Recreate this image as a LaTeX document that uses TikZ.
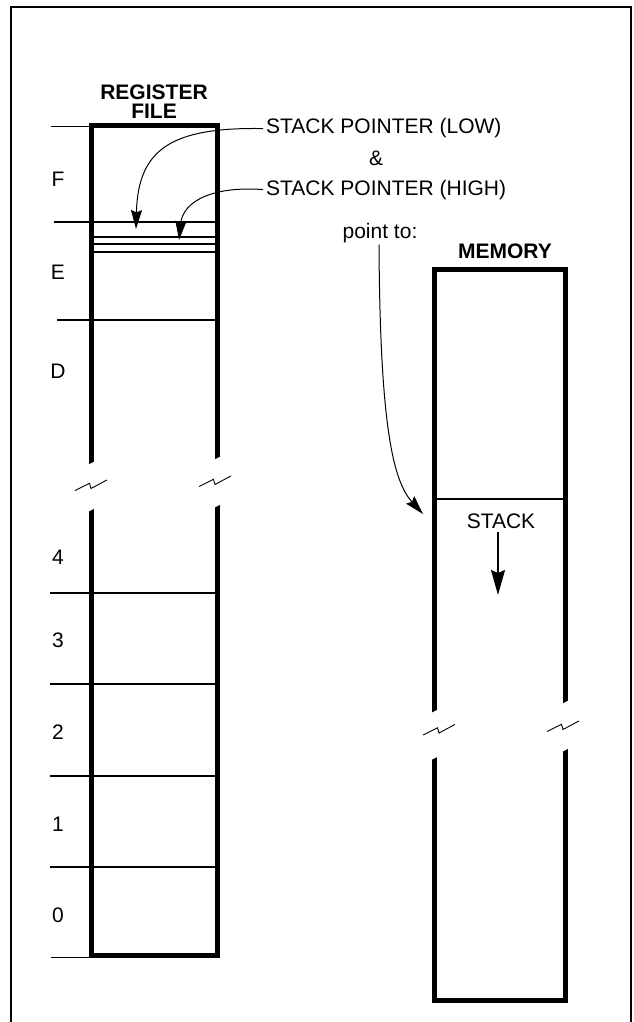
\documentclass[tikz,border=0pt]{standalone}
\usepackage{fontspec}
\setmainfont{Liberation Sans}
\usetikzlibrary{arrows.meta}
\newcommand\gapcut[3]{% x, y of top cut, y of bottom cut
  \fill[white] ({#1-3.6},{#2+1.8}) -- ({#1+3.6},{#2-1.8}) -- ({#1+3.6},{#3-1.8}) -- ({#1-3.6},{#3+1.8}) -- cycle;}
\newcommand\zigmark[2]{%
  \draw[zz] ({#1-16},{#2+6}) -- ({#1-1.5},{#2-1.2}) -- ({#1},{#2+4}) -- ({#1+16},{#2-4.6});}
\begin{document}
\begin{tikzpicture}[x=1pt,y=-1pt,
  lbl/.style={font=\fontsize{21}{24}\selectfont, inner sep=0pt},
  blbl/.style={font=\fontsize{21}{19}\selectfont\bfseries, inner sep=0pt, align=center},
  thickedge/.style={line width=5pt},
  thinline/.style={line width=1.5pt},
  ptr/.style={line width=1pt, -{Stealth[length=19pt,width=11pt,inset=2.5pt]}},
  bigptr/.style={line width=1.4pt, -{Stealth[length=25pt,width=14pt,inset=3pt]}},
  zz/.style={line width=0.9pt}]
\useasboundingbox (0,0) rectangle (633,1022);
% outer frame (open at the bottom)
\draw[line width=2pt] (11,1022) -- (11,7) -- (631,7) -- (631,1022);

% ---------- register file ----------
\node[blbl, anchor=north] (regtitle) at (154,84.5) {REGISTER\\FILE};
\draw[thickedge] (91.5,125.5) rectangle (217.5,955.5);
\draw[thinline] (51,126.5) -- (92,126.5);
\draw[thinline] (54,222) -- (217,222);
\draw[line width=1.9pt] (94,237.3) -- (215,237.3);
\draw[line width=1.9pt] (94,244.3) -- (215,244.3);
\draw[line width=1.3pt] (94,252) -- (215,252);
\draw[thinline] (57,320) -- (217,320);
\draw[thinline] (50,593) -- (217,593);
\draw[thinline] (50,684) -- (217,684);
\draw[thinline] (50,776) -- (217,776);
\draw[thinline] (50,867) -- (217,867);
\draw[thinline] (51,957.5) -- (92,957.5);
% break in the register file
\gapcut{91.5}{463}{510}
\gapcut{217.5}{458}{506}
\zigmark{91}{484.5}
\zigmark{215}{480.5}
% register labels
\node[lbl] (rF) at (58,179) {F};
\node[lbl] (rE) at (58,272) {E};
\node[lbl] (rD) at (58,371) {D};
\node[lbl] (r4) at (58,557) {4};
\node[lbl] (r3) at (58,640) {3};
\node[lbl] (r2) at (58,732) {2};
\node[lbl] (r1) at (58,824) {1};
\node[lbl] (r0) at (58,915) {0};

% ---------- stack pointer labels ----------
\node[lbl, anchor=base west] (splow) at (266,134) {STACK POINTER (LOW)};
\node[lbl, anchor=base] (amp) at (376,165) {\&};
\node[lbl, anchor=base west] (sphigh) at (266,195) {STACK POINTER (HIGH)};
\coordinate (lowtip) at (136,229);
\coordinate (hightip) at (179,240);
\draw[ptr] ([xshift=-3pt]splow.west) .. controls (170,127) and (138,150) .. (lowtip);
\draw[ptr] ([xshift=-3pt]sphigh.west) .. controls (215,186) and (183,200) .. (hightip);

% ---------- memory ----------
\node[blbl, anchor=base] (memtitle) at (505,258) {MEMORY};
\draw[thickedge] (434.5,269.5) rectangle (565.5,1000);
\draw[thinline] (437,499) -- (563,499);
\gapcut{434.5}{711.3}{758.3}
\gapcut{565.5}{702}{750}
\zigmark{439}{729}
\zigmark{563}{725.5}
\node[lbl, anchor=base] (stack) at (501,528) {STACK};
\coordinate (stacktip) at (498,595);
\draw[bigptr] ([yshift=-4pt]stack.south -| stacktip) -- (stacktip);

% ---------- point to ----------
\node[lbl, anchor=base] (ptto) at (380,238) {point to:};
\coordinate (memtip) at (423,514);
\draw[ptr] ([xshift=-1pt,yshift=-2pt]ptto.south) .. controls (380,420) and (392,480) .. (memtip);
\end{tikzpicture}
\end{document}
